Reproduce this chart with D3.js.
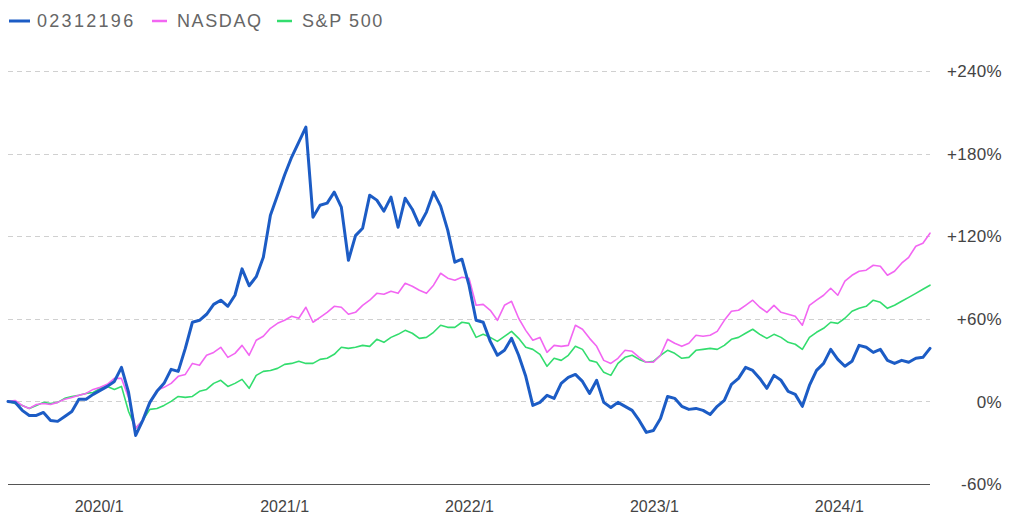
<!DOCTYPE html>
<html><head><meta charset="utf-8">
<script src="https://cdn.jsdelivr.net/npm/d3@7"></script>
<style>
html,body{margin:0;padding:0;background:#fff;}
svg{display:block;font-family:"Liberation Sans",Arial,sans-serif;}
</style></head>
<body>
<svg id="chart" width="1024" height="523"></svg>
<script>
// ---- data ----
const startDate = "2019-07-05";   // first biweekly observation
const stepDays = 14;
const seriesNames = ["02312196", "NASDAQ", "S&P 500"];
const fund = [0,-0.7,-6.5,-10.2,-10.2,-8.0,-13.8,-14.5,-10.9,-7.3,1.5,1.5,5.1,8.0,10.9,14.5,24.7,6.5,-24.7,-13.8,
-0.7,7.3,13.1,23.3,21.8,38.5,57.5,58.9,63.3,70.5,73.5,69.1,77.1,96.3,84.0,90.6,104.7,135.3,149.8,164.4,
177.5,188.4,199.3,133.8,142.5,144.0,152.0,141.1,102.5,120.4,125.8,149.8,146.2,138.2,148.4,126.5,147.6,139.6,128.0,137.5,
152.0,141.8,124.4,101.1,103.3,84.4,58.9,57.5,43.6,33.5,37.1,45.8,33.5,18.2,-2.9,-0.7,4.4,2.2,13.1,17.5,
19.6,14.5,5.8,15.3,-0.7,-4.4,-0.7,-3.6,-6.5,-13.8,-22.5,-21.1,-12.4,3.6,2.2,-3.6,-5.8,-5.1,-6.5,-9.5,
-3.6,0.7,12.4,16.7,24.7,22.5,16.7,9.5,18.9,15.3,7.3,5.1,-3.6,11.6,22.5,27.6,37.8,30.5,25.5,29.1,
40.7,39.3,35.6,37.8,29.8,27.6,29.8,28.4,31.3,32.0,38.5];
const nasdaq = [0,0.7,-2.9,-5.1,-2.2,-1.5,-2.2,-0.7,1.5,2.9,4.4,5.8,8.7,10.2,12.4,16.7,16.7,2.9,-19.6,-13.8,
-0.7,8.0,10.2,13.1,18.2,19.6,27.6,26.2,33.5,35.6,39.3,32.0,34.9,40.7,33.5,44.4,47.3,53.1,56.7,58.9,
61.8,60.4,68.4,57.5,61.1,64.7,69.1,68.4,63.3,64.7,69.8,73.5,78.5,77.8,80.0,78.5,85.8,83.6,80.7,78.5,
84.4,93.1,89.5,88.0,90.2,89.5,69.8,70.5,66.2,58.9,69.8,72.7,60.4,51.6,44.4,46.5,35.6,40.7,40.0,40.7,
55.3,52.4,45.8,40.0,29.8,27.6,31.3,37.1,36.4,32.0,28.4,28.4,33.5,45.1,42.2,40.0,42.2,48.0,47.3,48.0,
50.9,58.9,65.5,66.2,69.8,73.5,68.4,64.7,69.8,64.7,63.3,61.8,55.3,69.8,73.5,77.1,82.2,77.1,87.3,91.6,
94.5,95.3,98.9,98.2,91.6,94.5,100.4,104.7,112.7,114.9,122.2];
const sp500 = [0,-1.5,-2.9,-5.1,-2.9,-0.7,-1.5,-0.7,2.2,3.6,4.4,5.8,6.5,9.5,10.9,8.7,10.9,-7.3,-19.6,-13.8,
-5.8,-5.1,-2.9,0,3.6,2.9,3.6,7.3,8.7,13.1,15.3,10.9,13.1,16.0,9.5,18.9,21.8,22.5,24.0,26.9,
27.6,29.1,27.6,27.6,30.5,31.3,34.2,39.3,38.5,39.3,40.7,40.0,45.1,42.9,46.5,48.7,51.6,49.5,45.8,46.5,
50.2,55.3,53.8,53.8,57.5,56.7,46.5,48.7,46.5,43.6,47.3,50.9,45.8,39.3,37.8,34.2,25.5,31.3,29.8,33.5,
40.0,37.8,29.8,28.4,21.1,18.9,27.6,32.0,33.5,30.5,28.4,29.1,33.5,37.1,34.9,31.3,32.0,37.1,37.8,38.5,
37.8,40.7,45.1,46.5,49.5,52.4,48.7,45.8,48.7,46.5,42.9,41.5,37.8,46.5,50.2,53.1,57.5,56.7,60.4,65.5,
67.6,69.1,73.5,72.0,67.6,69.8,72.7,75.6,78.5,81.5,84.4];
const yTicks = [-60, 0, 60, 120, 180, 240];
const yTickLabels = ["-60%", "0%", "+60%", "+120%", "+180%", "+240%"];
const xTickDates = ["2020-01-01", "2021-01-01", "2022-01-01", "2023-01-01", "2024-01-01"];
const xTickLabels = ["2020/1", "2021/1", "2022/1", "2023/1", "2024/1"];
const colors = ["#1c5cc5", "#f266f2", "#33dd6e"];

// ---- build ----
const parse = d3.timeParse("%Y-%m-%d");
const t0 = parse(startDate);
const dates = fund.map((_, i) => d3.timeDay.offset(t0, i * stepDays));
const svg = d3.select("#chart");

const x = d3.scaleTime().domain([dates[0], dates[dates.length - 1]]).range([8, 930]);
const y = d3.scaleLinear().domain([-60, 240]).range([484, 71]);

// grid
svg.append("g").selectAll("line").data(yTicks.filter(d => d > -60)).join("line")
  .attr("x1", 8).attr("x2", 930)
  .attr("y1", d => Math.round(y(d)) + 0.5).attr("y2", d => Math.round(y(d)) + 0.5)
  .attr("stroke", "#d0d0d0").attr("stroke-width", 1).attr("stroke-dasharray", "5,4");

// bottom axis line
svg.append("line").attr("x1", 8).attr("x2", 930)
  .attr("y1", Math.round(y(-60)) + 0.5).attr("y2", Math.round(y(-60)) + 0.5)
  .attr("stroke", "#555").attr("stroke-width", 1.2);

// y labels
svg.append("g").selectAll("text").data(yTicks).join("text")
  .attr("x", 1002).attr("y", d => y(d)).attr("dy", "0.36em")
  .attr("text-anchor", "end").attr("font-size", 17).attr("fill", "#444")
  .attr("letter-spacing", "0.3px")
  .text((d, i) => yTickLabels[i]);

// x labels
svg.append("g").selectAll("text").data(xTickDates).join("text")
  .attr("x", d => x(parse(d))).attr("y", 506).attr("dy", "0.36em")
  .attr("text-anchor", "middle").attr("font-size", 16).attr("fill", "#444")
  .text((d, i) => xTickLabels[i]);

// lines
const line = d3.line().x((d, i) => x(dates[i])).y(d => y(d)).curve(d3.curveLinear);
const all = [sp500, nasdaq, fund];
const cols = [colors[2], colors[1], colors[0]];
const widths = [1.6, 1.6, 3];
all.forEach((s, k) => {
  svg.append("path").datum(s).attr("d", line)
    .attr("fill", "none").attr("stroke", cols[k]).attr("stroke-width", widths[k])
    .attr("stroke-linejoin", "round").attr("stroke-linecap", "round");
});

// legend
const legX = [9, 152, 277];
const legTextX = [37, 177, 302];
const lg = svg.append("g");
seriesNames.forEach((n, i) => {
  lg.append("line").attr("x1", legX[i]).attr("x2", legX[i] + (i === 0 ? 21 : 15))
    .attr("y1", 21).attr("y2", 21).attr("stroke", colors[i]).attr("stroke-width", i === 0 ? 3 : 2.5);
  lg.append("text").attr("x", legTextX[i]).attr("y", 21).attr("dy", "0.36em")
    .attr("font-size", 18).attr("fill", "#666").attr("letter-spacing", i === 0 ? "2.3px" : "1.6px").text(n);
});
</script>
</body></html>
